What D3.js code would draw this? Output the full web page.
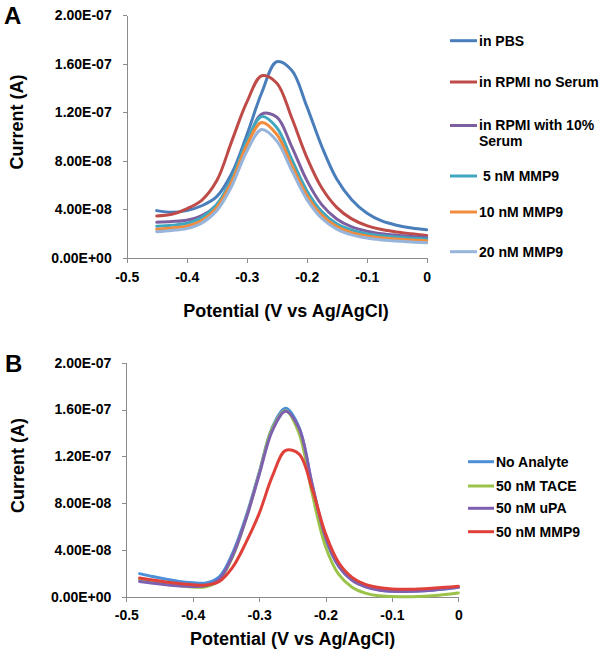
<!DOCTYPE html>
<html>
<head>
<meta charset="utf-8">
<script src="https://cdn.jsdelivr.net/npm/d3@7"></script>
<style>
  html, body { margin: 0; padding: 0; background: #fff; }
  svg { display: block; font-family: "Liberation Sans", Arial, sans-serif; }
  .axis path, .axis line { stroke: #8c8c8c; stroke-width: 1; shape-rendering: crispEdges; }
  .axis text { font-size: 14px; font-weight: bold; fill: #000; }
  .title { font-size: 18px; font-weight: bold; fill: #000; }
  .legend { font-size: 14px; font-weight: bold; fill: #000; }
  .panel { font-size: 24px; font-weight: bold; fill: #000; }
</style>
</head>
<body>
<script>
// ---------- DATA (current in units of 1e-8 A) ----------
const yTickValues = [0, 4, 8, 12, 16, 20];
const yTickLabels = ["0.00E+00", "4.00E-08", "8.00E-08", "1.20E-07", "1.60E-07", "2.00E-07"];
const xTickValues = [-0.5, -0.4, -0.3, -0.2, -0.1, 0];
const xTickLabels = ["-0.5", "-0.4", "-0.3", "-0.2", "-0.1", "0"];

// Panel A
const potentialA = [-0.45, -0.425, -0.4, -0.375, -0.35, -0.325, -0.3, -0.275, -0.25, -0.225,
                    -0.2, -0.175, -0.15, -0.125, -0.1, -0.075, -0.05, -0.025, 0];
const inPBS      = [3.90, 3.76, 3.90, 4.30, 5.05, 6.95, 10.1, 13.6, 16.15, 15.45, 12.5, 9.2, 6.5, 4.8, 3.7, 3.05, 2.7, 2.47, 2.32];
const rpmiNoSer  = [3.46, 3.60, 4.05, 4.75, 6.35, 9.6, 12.8, 15.0, 14.41, 11.54, 8.31, 5.78, 4.17, 3.22, 2.67, 2.34, 2.14, 1.99, 1.86];
const rpmiSerum  = [2.94, 3.00, 3.11, 3.48, 4.36, 6.25, 9.27, 11.85, 11.6, 9.17, 6.41, 4.39, 3.21, 2.56, 2.21, 2.0, 1.87, 1.77, 1.68];
const mmp9_5nM   = [2.61, 2.70, 2.86, 3.34, 4.40, 6.53, 9.61, 11.65, 10.74, 8.13, 5.56, 3.82, 2.82, 2.3, 2.0, 1.83, 1.72, 1.63, 1.56];
const mmp9_10nM  = [2.36, 2.47, 2.62, 3.09, 4.17, 6.28, 9.26, 11.15, 10.18, 7.64, 5.18, 3.53, 2.59, 2.08, 1.82, 1.67, 1.57, 1.48, 1.42];
const mmp9_20nM  = [2.17, 2.27, 2.42, 2.87, 3.89, 5.91, 8.77, 10.57, 9.64, 7.22, 4.85, 3.27, 2.38, 1.9, 1.64, 1.49, 1.4, 1.31, 1.25];
const namesA  = ["in PBS", "in RPMI no Serum", "in RPMI with 10%|Serum", " 5 nM MMP9", "10 nM MMP9", "20 nM MMP9"];
const colorsA = ["#4a7ebb", "#be4b48", "#7d5fa0", "#3fa7c0", "#f38b3c", "#97b4da"];

// Panel B
const potentialB = [-0.48, -0.46, -0.44, -0.42, -0.4, -0.38, -0.36, -0.34, -0.32, -0.3, -0.28, -0.26, -0.24,
                    -0.22, -0.2, -0.18, -0.16, -0.14, -0.12, -0.1, -0.08, -0.06, -0.04, -0.02, 0];
const noAnalyte = [1.97, 1.72, 1.5, 1.3, 1.2, 1.18, 1.7, 3.7, 6.8, 10.6, 14.5, 16.1, 14.5, 9.5, 5.0, 2.6, 1.45, 0.9, 0.6, 0.47, 0.46, 0.48, 0.55, 0.65, 0.8];
const tace50    = [1.5, 1.3, 1.1, 0.95, 0.82, 0.85, 1.4, 3.4, 6.6, 10.5, 14.4, 15.9, 14.0, 8.8, 4.3, 1.9, 0.8, 0.3, 0.08, 0.02, 0.0, 0.02, 0.08, 0.18, 0.32];
const upa50     = [1.3, 1.15, 1.02, 0.92, 0.88, 0.95, 1.5, 3.5, 6.6, 10.4, 14.2, 15.85, 14.4, 9.6, 5.1, 2.6, 1.4, 0.85, 0.58, 0.47, 0.45, 0.48, 0.56, 0.67, 0.8];
const mmp9_50   = [1.6, 1.42, 1.26, 1.12, 1.02, 1.0, 1.3, 2.5, 4.6, 7.1, 10.3, 12.5, 12.2, 9.2, 5.4, 2.9, 1.65, 1.05, 0.78, 0.66, 0.63, 0.66, 0.72, 0.8, 0.9];
const namesB  = ["No Analyte", "50 nM TACE", "50 nM uPA", "50 nM MMP9"];
const colorsB = ["#4a8fd8", "#9bc34a", "#7f60b0", "#e0403a"];

// ---------- DRAW ----------
const svg = d3.select("body").append("svg").attr("width", 605).attr("height", 654);

function panel(cfg) {
  const x = d3.scaleLinear().domain([-0.5, 0]).range([cfg.x0, cfg.x1]);
  const y = d3.scaleLinear().domain([0, 20]).range([cfg.yBottom, cfg.yTop]);
  const g = svg.append("g");

  g.append("g").attr("class", "axis")
    .attr("transform", `translate(${cfg.x0},0)`)
    .call(d3.axisLeft(y).tickValues(yTickValues).tickSize(4).tickPadding(11)
      .tickFormat((d, i) => yTickLabels[i]).tickSizeOuter(0));
  g.append("g").attr("class", "axis")
    .attr("transform", `translate(0,${cfg.yBottom})`)
    .call(d3.axisBottom(x).tickValues(xTickValues).tickSize(5).tickPadding(cfg.xPad)
      .tickFormat((d, i) => xTickLabels[i]).tickSizeOuter(0));

  const line = d3.line().x(d => x(d[0])).y(d => y(d[1])).curve(d3.curveCatmullRom.alpha(0.5));
  cfg.series.forEach((s, i) => {
    g.append("path")
      .datum(cfg.potential.map((v, j) => [v, s[j]]))
      .attr("fill", "none").attr("stroke", cfg.colors[i])
      .attr("stroke-width", 3).attr("stroke-linejoin", "round").attr("stroke-linecap", "round")
      .attr("d", line);
  });

  g.append("text").attr("class", "title").attr("text-anchor", "middle")
    .attr("x", cfg.titleX).attr("y", cfg.titleY).text("Potential (V vs Ag/AgCl)");
  g.append("text").attr("class", "title").attr("text-anchor", "middle")
    .attr("transform", `translate(${cfg.ylabX},${cfg.ylabY}) rotate(-90)`)
    .attr("dy", "0.35em").text("Current (A)");
  g.append("text").attr("class", "panel").attr("x", cfg.letterX).attr("y", cfg.letterY).text(cfg.letter);

  cfg.names.forEach((n, i) => {
    const ly = cfg.legendY[i];
    g.append("line").attr("x1", cfg.legX0).attr("x2", cfg.legX1).attr("y1", ly).attr("y2", ly)
      .attr("stroke", cfg.colors[i]).attr("stroke-width", 3);
    const parts = n.split("|");
    const t = g.append("text").attr("class", "legend").attr("x", cfg.legX1 + 2).attr("y", ly)
      .attr("xml:space", "preserve");
    parts.forEach((p, k) => {
      t.append("tspan").attr("x", cfg.legX1 + 2).attr("dy", k === 0 ? "0.35em" : "16px").text(p);
    });
  });
}

panel({
  x0: 126.7, x1: 426.7, yTop: 15, yBottom: 258, xPad: 9,
  potential: potentialA, series: [inPBS, rpmiNoSer, rpmiSerum, mmp9_5nM, mmp9_10nM, mmp9_20nM],
  colors: colorsA, names: namesA,
  legendY: [40.7, 82, 125.5, 176, 212, 251.7], legX0: 450, legX1: 477,
  titleX: 286, titleY: 316.5, ylabX: 17, ylabY: 122, letter: "A", letterX: 4, letterY: 24
});

panel({
  x0: 126.3, x1: 458.3, yTop: 362.7, yBottom: 596.7, xPad: 8,
  potential: potentialB, series: [noAnalyte, tace50, upa50, mmp9_50],
  colors: colorsB, names: namesB,
  legendY: [461.7, 486, 508.3, 531.7], legX0: 468, legX1: 494,
  titleX: 292.7, titleY: 644.5, ylabX: 17.5, ylabY: 465.5, letter: "B", letterX: 5, letterY: 371.7
});
</script>
</body>
</html>
